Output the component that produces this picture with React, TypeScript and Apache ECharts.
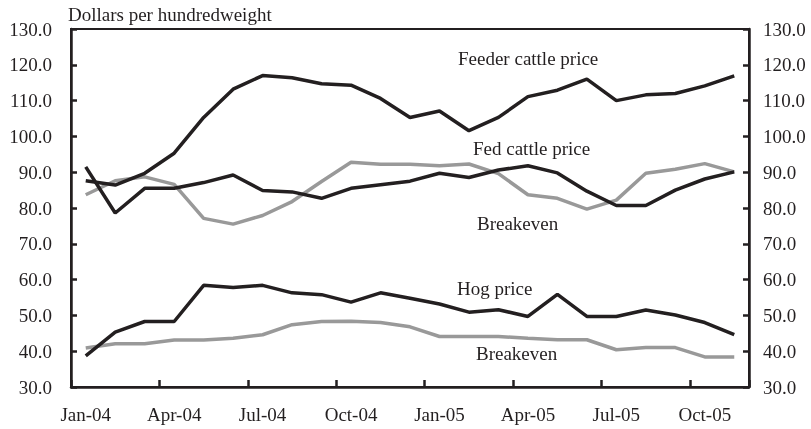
import React, { useEffect, useRef } from "react";
import * as echarts from "echarts";

const months = [
  "Jan-04", "Feb-04", "Mar-04", "Apr-04", "May-04", "Jun-04", "Jul-04", "Aug-04", "Sep-04", "Oct-04", "Nov-04", "Dec-04",
  "Jan-05", "Feb-05", "Mar-05", "Apr-05", "May-05", "Jun-05", "Jul-05", "Aug-05", "Sep-05", "Oct-05", "Nov-05",
];

const feederCattlePrice = [87.6, 86.4, 89.7, 95.3, 105.3, 113.2, 117.0, 116.4, 114.7, 114.3, 110.6, 105.3,
  107.1, 101.6, 105.3, 111.1, 112.9, 116.0, 110.0, 111.6, 112.0, 114.1, 116.9];

const fedCattlePrice = [91.5, 78.6, 85.5, 85.5, 87.1, 89.2, 84.9, 84.5, 82.7, 85.5, 86.5, 87.5,
  89.7, 88.5, 90.6, 91.8, 89.8, 84.7, 80.7, 80.7, 85.0, 88.1, 90.1];

const fedCattleBreakeven = [83.7, 87.6, 88.7, 86.6, 77.1, 75.5, 77.9, 81.8, 87.4, 92.8, 92.2, 92.2,
  91.8, 92.3, 89.6, 83.7, 82.7, 79.7, 82.2, 89.7, 90.8, 92.4, 90.1];

const hogPrice = [38.7, 45.3, 48.3, 48.3, 58.4, 57.8, 58.4, 56.3, 55.8, 53.7, 56.3, 54.8,
  53.2, 50.9, 51.6, 49.7, 55.9, 49.7, 49.7, 51.5, 50.1, 48.0, 44.6];

const hogBreakeven = [40.9, 42.1, 42.1, 43.1, 43.1, 43.6, 44.6, 47.4, 48.3, 48.4, 48.0, 46.8,
  44.1, 44.1, 44.1, 43.6, 43.2, 43.2, 40.4, 41.0, 41.0, 38.4, 38.4];

const yTicks = { min: 30, max: 130, interval: 10 };

const annotations = [
  { text: "Feeder cattle price", x: 458, y: 58 },
  { text: "Fed cattle price", x: 473, y: 148 },
  { text: "Breakeven", x: 477, y: 223 },
  { text: "Hog price", x: 457, y: 288 },
  { text: "Breakeven", x: 476, y: 353 },
];

const BLACK = "#231f20";
const GRAY = "#999999";
const FONT = "Liberation Serif";

export default function App() {
  const ref = useRef<HTMLDivElement>(null);
  useEffect(() => {
    if (!ref.current) return;
    const chart = echarts.init(ref.current, undefined, { renderer: "svg" });
    const yAxisCommon = {
      type: "value" as const,
      min: yTicks.min,
      max: yTicks.max,
      interval: yTicks.interval,
      splitLine: { show: false },
      axisLine: { show: true, lineStyle: { color: BLACK, width: 2.5 } },
      axisTick: { show: true, inside: true, length: 6, lineStyle: { color: BLACK, width: 2.5 } },
      axisLabel: {
        color: BLACK,
        fontFamily: FONT,
        fontSize: 19,
        formatter: (v: number) => v.toFixed(1),
      },
    };
    const line = (name: string, data: number[], color: string, z: number) => ({
      name,
      type: "line" as const,
      data,
      symbol: "none",
      z,
      lineStyle: { color, width: 3.5 },
    });
    chart.setOption({
      animation: false,
      grid: {
        left: 71,
        right: 62,
        top: 29,
        bottom: 42,
        show: true,
        borderColor: BLACK,
        borderWidth: 2,
        backgroundColor: "transparent",
      },
      xAxis: {
        type: "category",
        data: months,
        boundaryGap: true,
        axisLine: { show: true, lineStyle: { color: BLACK, width: 2.5 } },
        axisTick: { show: true, inside: true, length: 7, interval: 2, lineStyle: { color: BLACK, width: 2.5 } },
        axisLabel: { interval: 2, color: BLACK, fontFamily: FONT, fontSize: 19, margin: 18 },
        splitLine: { show: false },
      },
      yAxis: [
        { ...yAxisCommon, position: "left", axisLabel: { ...yAxisCommon.axisLabel, margin: 19 } },
        { ...yAxisCommon, position: "right", axisLabel: { ...yAxisCommon.axisLabel, margin: 14 } },
      ],
      series: [
        line("Fed cattle breakeven", fedCattleBreakeven, GRAY, 2),
        line("Hog breakeven", hogBreakeven, GRAY, 2),
        line("Feeder cattle price", feederCattlePrice, BLACK, 3),
        line("Fed cattle price", fedCattlePrice, BLACK, 3),
        line("Hog price", hogPrice, BLACK, 3),
      ],
      graphic: [
        {
          type: "text",
          x: 68,
          y: 14,
          style: { text: "Dollars per hundredweight", fill: BLACK, font: `19px ${FONT}`, verticalAlign: "middle", align: "left" },
        },
        ...annotations.map((a) => ({
          type: "text",
          x: a.x,
          y: a.y,
          style: { text: a.text, fill: BLACK, font: `19px ${FONT}`, verticalAlign: "middle", align: "left" },
        })),
      ],
    });
    return () => chart.dispose();
  }, []);
  return <div ref={ref} style={{ position: "fixed", left: 0, top: 0, width: 811, height: 429 }} />;
}
